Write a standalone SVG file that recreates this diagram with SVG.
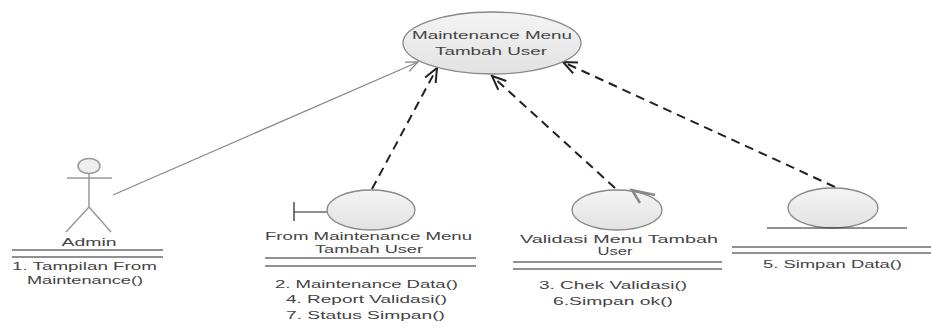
<svg xmlns="http://www.w3.org/2000/svg" width="931" height="327" viewBox="0 0 931 327">
<style>
text{font-family:"Liberation Sans",Arial,sans-serif;font-size:11.5px;fill:#444;text-anchor:middle}
.obj{fill:url(#g);stroke:#888;stroke-width:1.3}
.sep{stroke:#222;stroke-width:1.2}
.act{stroke:#999;stroke-width:1.5;fill:none}
.dash{stroke:#222;stroke-width:2;stroke-dasharray:9 6;fill:none}
.solid{stroke:#888;stroke-width:1.3;fill:none}
</style>
<defs>
<linearGradient id="g" x1="0" y1="0" x2="0" y2="1">
<stop offset="0" stop-color="#f4f4f4"/><stop offset="1" stop-color="#e2e2e2"/>
</linearGradient>
<marker id="ad" markerUnits="userSpaceOnUse" markerWidth="16" markerHeight="14" refX="14" refY="7" orient="auto">
<path d="M0,1 L14,7 L0,13" fill="none" stroke="#222" stroke-width="2"/>
</marker>
<marker id="as" markerUnits="userSpaceOnUse" markerWidth="14" markerHeight="12" refX="12" refY="6" orient="auto">
<path d="M0,1 L12,6 L0,11" fill="none" stroke="#888" stroke-width="1.3"/>
</marker>
</defs>
<rect width="931" height="327" fill="#fff"/>

<g id="connectors">
<line class="solid" x1="113" y1="195" x2="418" y2="62" marker-end="url(#as)"/>
<line class="dash" x1="372" y1="189" x2="437" y2="68" marker-end="url(#ad)"/>
<line class="dash" x1="615" y1="188" x2="492" y2="76" marker-end="url(#ad)"/>
<line class="dash" x1="835" y1="187" x2="563" y2="62" marker-end="url(#ad)"/>
</g>

<g id="main">
<ellipse class="obj" cx="492" cy="43" rx="89" ry="31"/>
<text x="492" y="39" textLength="160" lengthAdjust="spacingAndGlyphs">Maintenance Menu</text>
<text x="491" y="55" textLength="112" lengthAdjust="spacingAndGlyphs">Tambah User</text>
</g>

<g id="admin">
<ellipse class="act" cx="89" cy="166" rx="11" ry="7.5" style="fill:#eee"/>
<line class="act" x1="67" y1="178" x2="112" y2="178"/>
<line class="act" x1="89" y1="173.5" x2="89" y2="207"/>
<line class="act" x1="89" y1="207" x2="66" y2="232"/>
<line class="act" x1="89" y1="207" x2="111" y2="232"/>
<text x="89" y="246" textLength="55" lengthAdjust="spacingAndGlyphs">Admin</text>
<line class="sep" x1="12" y1="250" x2="163" y2="250"/>
<line class="sep" x1="12" y1="257" x2="163" y2="257"/>
<text x="84.5" y="270" textLength="145" lengthAdjust="spacingAndGlyphs">1. Tampilan From</text>
<text x="85" y="284" textLength="116" lengthAdjust="spacingAndGlyphs">Maintenance()</text>
</g>

<g id="boundary">
<line class="sep" x1="294" y1="202" x2="294" y2="221"/>
<line class="sep" x1="294" y1="212" x2="327" y2="212"/>
<ellipse class="obj" cx="371" cy="210" rx="44" ry="20"/>
<text x="368.5" y="240" textLength="207" lengthAdjust="spacingAndGlyphs">From Maintenance Menu</text>
<text x="369" y="253" textLength="108" lengthAdjust="spacingAndGlyphs">Tambah User</text>
<line class="sep" x1="265" y1="258" x2="476" y2="258"/>
<line class="sep" x1="265" y1="266" x2="476" y2="266"/>
<text x="366.5" y="288" textLength="183" lengthAdjust="spacingAndGlyphs">2. Maintenance Data()</text>
<text x="366.5" y="303" textLength="161" lengthAdjust="spacingAndGlyphs">4. Report Validasi()</text>
<text x="365.5" y="319" textLength="159" lengthAdjust="spacingAndGlyphs">7. Status Simpan()</text>
</g>

<g id="control">
<ellipse class="obj" cx="617" cy="210" rx="45" ry="20"/>
<path d="M655,195 L632,190 L640,203" fill="none" stroke="#888" stroke-width="2.5"/>
<text x="619" y="243" textLength="198" lengthAdjust="spacingAndGlyphs">Validasi Menu Tambah</text>
<text x="615" y="255" textLength="35" lengthAdjust="spacingAndGlyphs">User</text>
<line class="sep" x1="513" y1="262" x2="722" y2="262"/>
<line class="sep" x1="513" y1="269" x2="722" y2="269"/>
<text x="613" y="289" textLength="148" lengthAdjust="spacingAndGlyphs">3. Chek Validasi()</text>
<text x="613" y="305" textLength="120" lengthAdjust="spacingAndGlyphs">6.Simpan ok()</text>
</g>

<g id="entity">
<ellipse class="obj" cx="833" cy="208" rx="45" ry="20"/>
<line class="sep" x1="767" y1="228" x2="907" y2="228"/>
<line class="sep" x1="732" y1="247" x2="931" y2="247"/>
<line class="sep" x1="732" y1="253" x2="931" y2="253"/>
<text x="832.5" y="268" textLength="139" lengthAdjust="spacingAndGlyphs">5. Simpan Data()</text>
</g>
</svg>
